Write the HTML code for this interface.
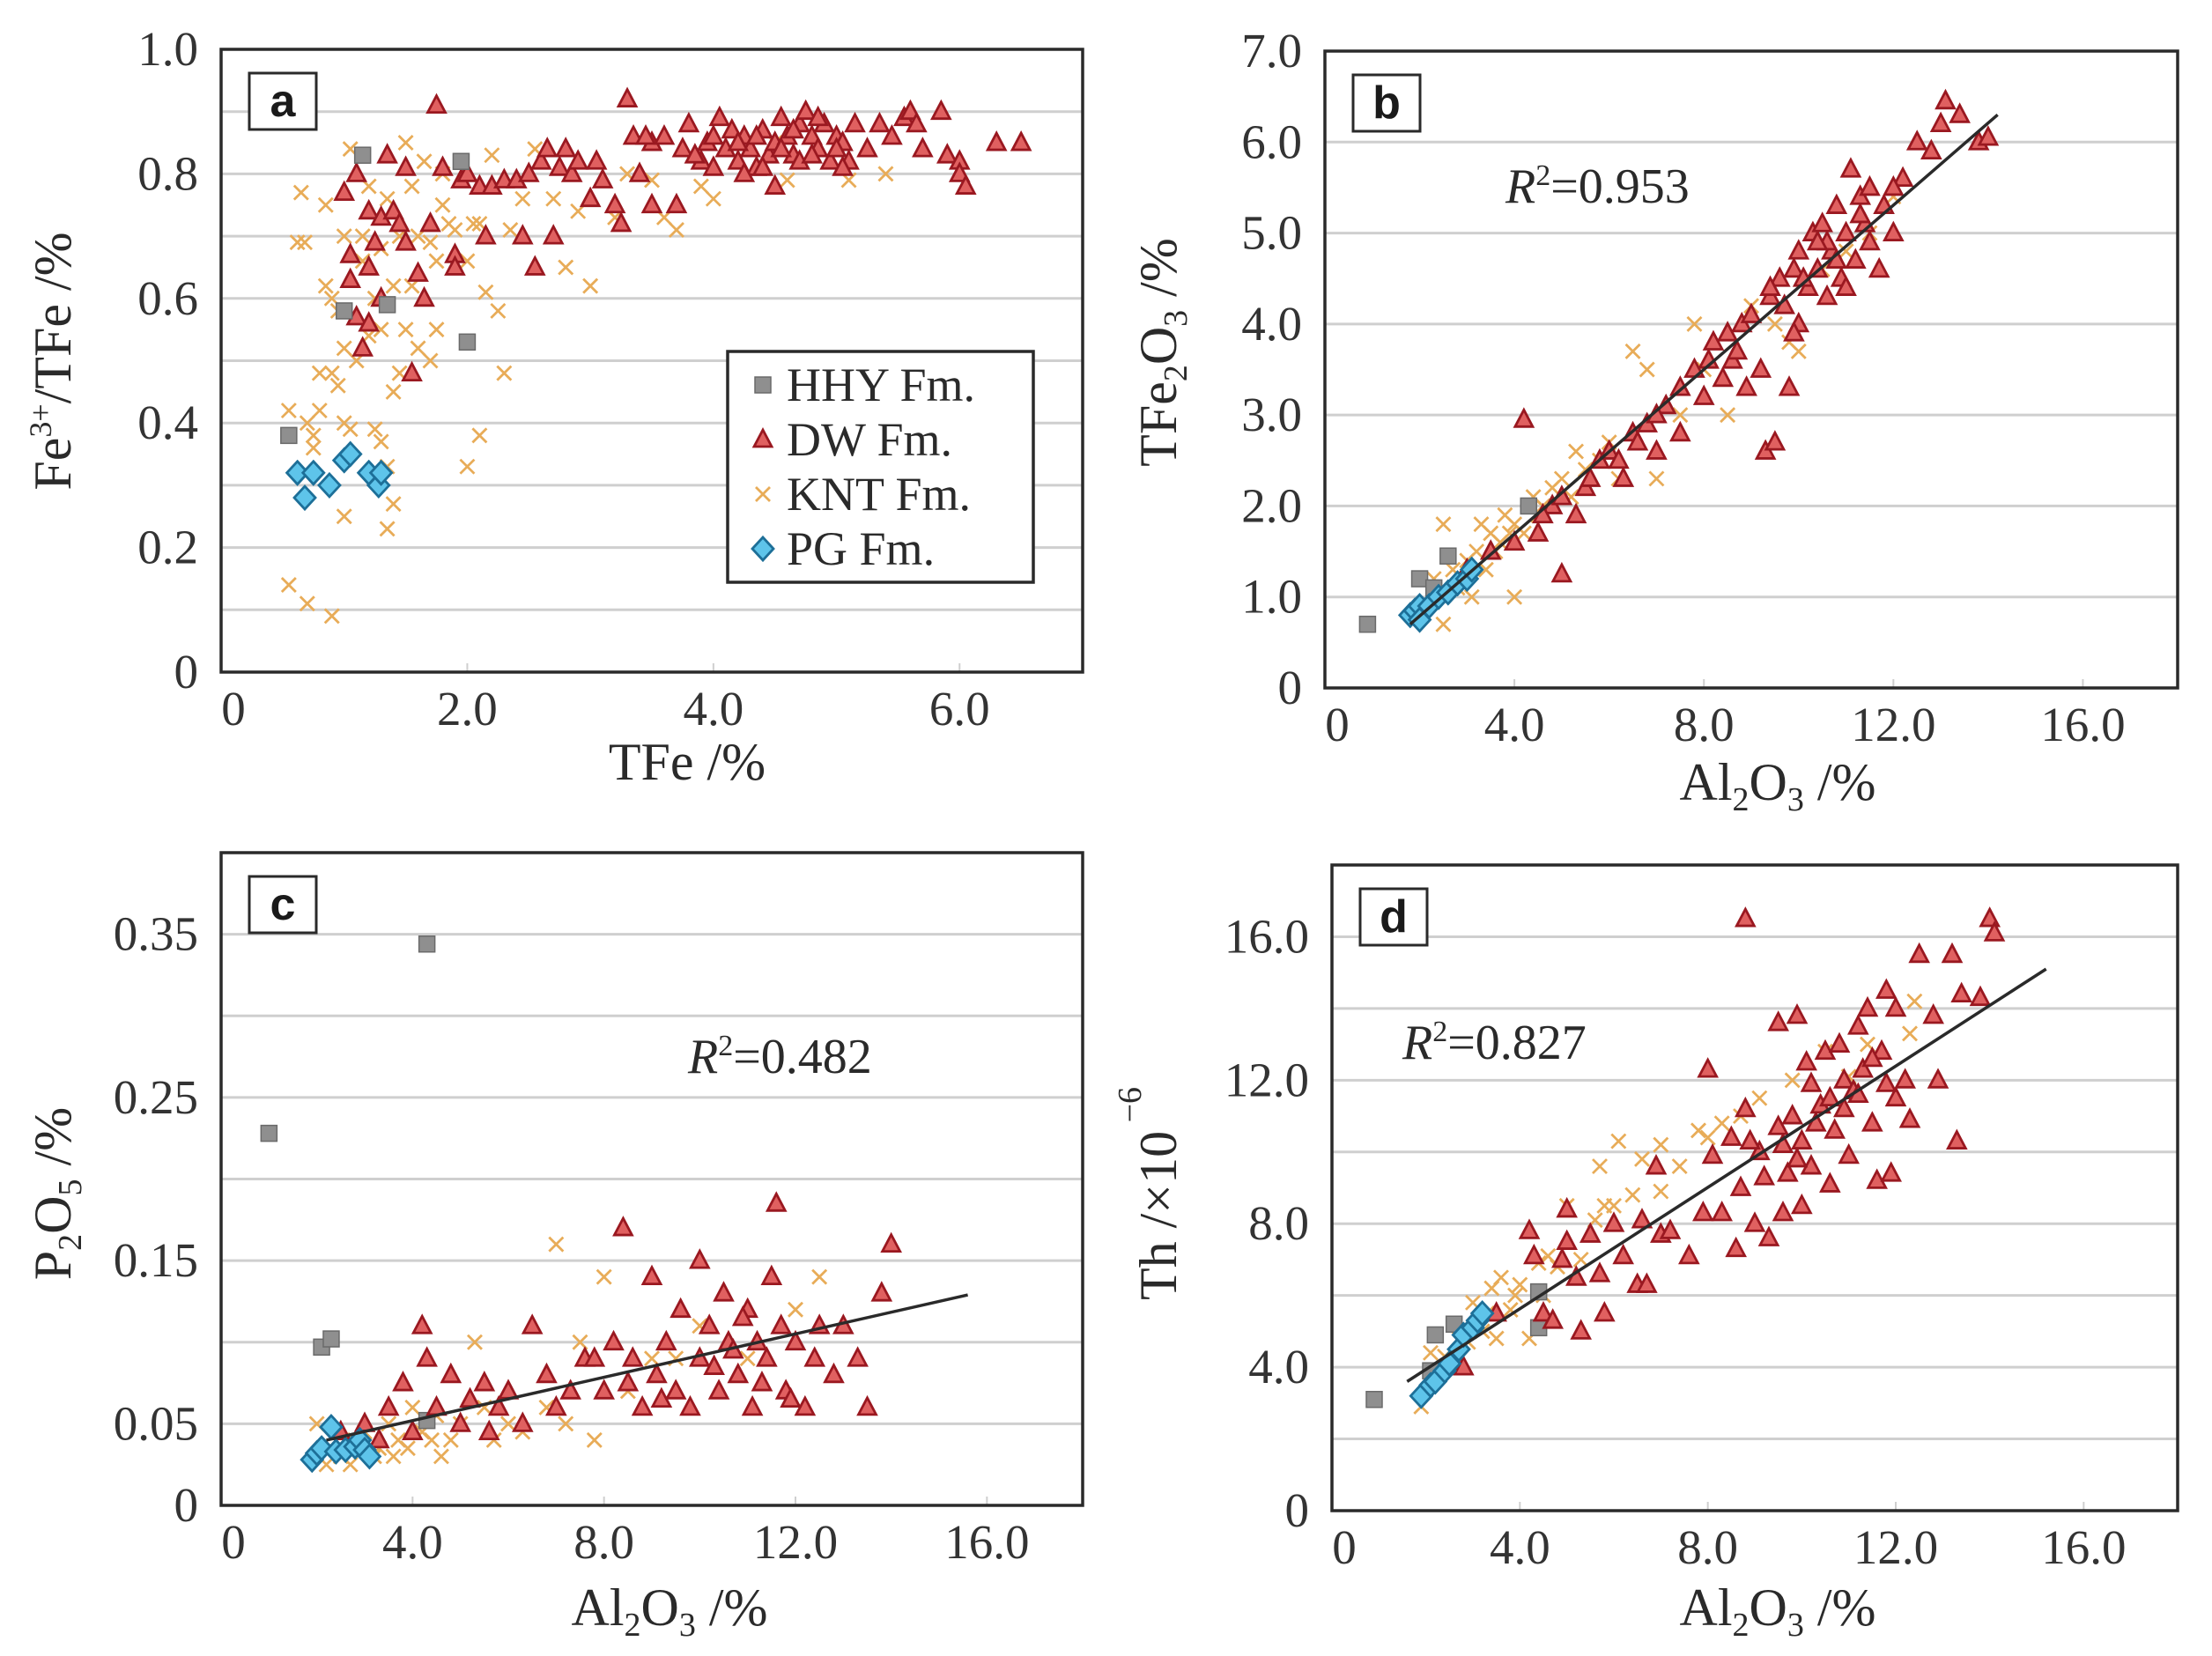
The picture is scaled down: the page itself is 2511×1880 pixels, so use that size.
<!DOCTYPE html>
<html><head><meta charset="utf-8">
<style>
html,body{margin:0;padding:0;background:#fff;}
svg{display:block;font-family:"Liberation Serif",serif;}
</style></head>
<body>
<svg id="fig" width="2511" height="1880" viewBox="0 0 2511 1880" xmlns="http://www.w3.org/2000/svg">
<rect x="0" y="0" width="2511" height="1880" fill="#fff"/>
<g id="layer"></g>
</svg>
<script>
// ---------- Panel a data: TFe (%) vs Fe3+/TFe ----------
const aHHY = [[0.55,0.38],[1.15,0.83],[1.95,0.82],[1.0,0.58],[1.35,0.59],[2.0,0.53]];
const aPG = [[0.62,0.32],[0.68,0.28],[0.75,0.32],[0.88,0.30],[1.0,0.34],[1.05,0.35],[1.2,0.32],[1.28,0.30],[1.3,0.32]];
const aDW = [[1.75,0.91],[3.3,0.92],[1.0,0.77],[1.1,0.8],[1.05,0.67],[1.05,0.63],[1.1,0.57],[1.15,0.52],[1.2,0.56],[1.2,0.74],[1.2,0.65],[1.25,0.69],[1.3,0.60],[1.3,0.73],[1.35,0.83],[1.4,0.74],[1.45,0.72],[1.5,0.69],[1.5,0.81],[1.55,0.48],[1.6,0.64],[1.65,0.60],[1.7,0.72],[1.8,0.81],[1.9,0.67],[1.9,0.65],[1.95,0.79],[2.0,0.80],[2.1,0.78],[2.15,0.70],[2.2,0.78],[2.3,0.79],[2.4,0.79],[2.45,0.70],[2.5,0.80],[2.55,0.65],[2.6,0.82],[2.65,0.84],[2.7,0.70],[2.75,0.81],[2.8,0.84],[2.85,0.80],[2.9,0.82],[3.0,0.76],[3.05,0.82],[3.1,0.79],[3.2,0.75],[3.25,0.72],[3.35,0.86],[3.4,0.80],[3.5,0.85],[3.5,0.75],[3.6,0.86],[3.7,0.75],[3.75,0.84],[3.8,0.88],[3.9,0.82],[3.95,0.85],[4.0,0.81],[4.05,0.89],[4.1,0.84],[4.15,0.87],[4.2,0.82],[4.25,0.86],[4.3,0.84],[4.35,0.81],[4.4,0.87],[4.45,0.83],[4.5,0.78],[4.5,0.85],[4.55,0.89],[4.6,0.86],[4.65,0.83],[4.7,0.88],[4.75,0.90],[4.8,0.86],[4.85,0.84],[4.9,0.88],[4.95,0.82],[5.0,0.86],[5.05,0.85],[5.1,0.82],[5.15,0.88],[5.25,0.84],[5.35,0.88],[5.45,0.86],[5.55,0.89],[5.6,0.90],[5.65,0.88],[5.7,0.84],[5.85,0.90],[5.9,0.83],[6.0,0.82],[6.0,0.80],[6.05,0.78],[6.3,0.85],[6.5,0.85],[4.25,0.80],[4.4,0.81],[4.7,0.82],[4.0,0.86],[3.85,0.83],[4.55,0.84],[4.85,0.89],[5.05,0.81],[4.2,0.85],[4.35,0.86],[4.65,0.87],[4.8,0.83],[5.0,0.84],[3.45,0.86]];
const aKNT = [[0.55,0.42],[0.55,0.14],[0.7,0.11],[0.9,0.09],[0.65,0.77],[0.62,0.69],[0.68,0.69],[0.7,0.40],[0.75,0.38],[0.8,0.42],[0.8,0.48],[0.85,0.62],[0.9,0.60],[0.85,0.75],[0.9,0.48],[0.95,0.46],[1.0,0.25],[1.0,0.40],[1.05,0.39],[1.0,0.52],[1.0,0.70],[1.05,0.84],[1.1,0.50],[1.15,0.66],[1.2,0.78],[1.2,0.54],[1.25,0.39],[1.3,0.37],[1.3,0.55],[1.35,0.23],[1.35,0.33],[1.4,0.27],[1.4,0.45],[1.4,0.62],[1.45,0.48],[1.5,0.85],[1.5,0.55],[1.55,0.78],[1.6,0.52],[1.65,0.82],[1.7,0.50],[1.7,0.69],[1.75,0.55],[1.8,0.75],[1.85,0.72],[1.9,0.71],[2.0,0.66],[2.0,0.33],[2.05,0.72],[2.1,0.38],[2.15,0.61],[2.2,0.83],[2.25,0.58],[2.3,0.48],[2.35,0.71],[2.45,0.76],[2.55,0.84],[2.7,0.76],[2.8,0.65],[3.0,0.62],[2.9,0.74],[3.2,0.73],[3.3,0.80],[3.5,0.79],[3.6,0.73],[3.7,0.71],[3.9,0.78],[4.0,0.76],[4.5,0.85],[4.6,0.79],[5.1,0.79],[5.4,0.80],[1.15,0.70],[1.3,0.68],[1.45,0.70],[1.25,0.60],[1.6,0.70],[0.95,0.58],[1.8,0.80],[2.1,0.72],[1.35,0.76],[1.55,0.62],[1.75,0.66],[0.75,0.36]];
const aXTicks = [0,2,4,6];
const aXTickLabels = ["0","2.0","4.0","6.0"];
const aYTicks = [0,0.2,0.4,0.6,0.8,1.0];
const aYTickLabels = ["0","0.2","0.4","0.6","0.8","1.0"];

// ---------- Panel b data: Al2O3 vs TFe2O3 ----------
const bHHY = [[0.9,0.7],[2.0,1.2],[2.3,1.1],[2.6,1.45],[4.3,2.0]];
const bPG = [[1.8,0.8],[1.9,0.85],[2.0,0.9],[2.2,0.9],[2.4,1.0],[2.6,1.05],[2.8,1.15],[3.0,1.2],[3.1,1.3],[2.0,0.75]];
const bDW = [[3.0,1.3],[3.5,1.5],[4.0,1.6],[4.2,2.95],[4.5,1.7],[4.8,2.0],[5.0,1.25],[5.0,2.1],[5.5,2.2],[5.8,2.5],[6.0,2.6],[6.3,2.3],[6.5,2.8],[6.8,2.9],[7.0,2.6],[7.2,3.1],[7.5,3.3],[7.5,2.8],[7.8,3.5],[8.0,3.2],[8.2,3.8],[8.4,3.4],[8.5,3.9],[8.6,3.6],[8.8,4.0],[8.9,3.3],[9.0,4.1],[9.2,3.5],[9.3,2.6],[9.4,4.3],[9.5,2.7],[9.6,4.5],[9.8,3.3],[9.9,4.6],[10.0,4.0],[10.0,4.8],[10.2,4.4],[10.3,5.0],[10.4,4.6],[10.5,5.1],[10.6,4.3],[10.7,4.8],[10.8,5.3],[10.9,4.5],[11.0,5.0],[11.1,5.7],[11.2,4.7],[11.3,5.4],[11.4,5.1],[11.5,5.5],[11.7,4.6],[11.8,5.3],[12.0,5.0],[12.2,5.6],[12.5,6.0],[12.8,5.9],[13.0,6.2],[13.1,6.45],[13.4,6.3],[13.8,6.0],[14.0,6.05],[9.7,4.2],[10.1,4.5],[8.1,3.6],[8.7,3.7],[7.0,3.0],[6.2,2.5],[5.3,1.9],[4.6,1.9],[10.6,4.9],[11.0,4.4],[11.5,4.9],[12.0,5.5],[9.9,3.9],[10.4,4.9],[10.8,4.7],[9.4,4.4],[11.3,5.2],[5.6,2.3],[6.6,2.7]];
const bKNT = [[2.0,0.8],[2.3,1.2],[2.5,0.7],[2.5,1.8],[2.8,1.1],[3.0,1.4],[3.2,1.5],[3.4,1.3],[3.5,1.7],[3.7,1.6],[3.8,1.9],[4.0,1.0],[4.0,1.8],[4.2,1.7],[4.4,2.1],[4.6,2.0],[4.8,2.2],[5.0,2.3],[5.2,2.1],[5.5,2.4],[5.8,2.5],[6.0,2.7],[6.2,2.3],[6.5,3.7],[6.8,3.5],[7.0,2.3],[7.5,3.0],[7.8,4.0],[8.0,3.5],[8.5,3.0],[9.0,4.2],[9.5,4.0],[9.8,3.8],[10.0,3.7],[10.5,4.6],[11.0,4.8],[11.5,5.0],[12.0,5.4],[3.3,1.8],[2.7,1.3],[3.1,1.0],[4.5,1.9],[5.3,2.6],[3.6,1.5],[2.9,1.2],[3.9,1.7]];
const bFit = [[1.8,0.7],[14.2,6.3]];
const bXTicks = [0,4,8,12,16];
const bXTickLabels = ["0","4.0","8.0","12.0","16.0"];
const bYTicks = [0,1,2,3,4,5,6,7];
const bYTickLabels = ["0","1.0","2.0","3.0","4.0","5.0","6.0","7.0"];

// ---------- Panel c data: Al2O3 vs P2O5 ----------
const cHHY = [[1.0,0.228],[2.1,0.097],[2.3,0.102],[4.3,0.344],[4.3,0.052]];
const cPG = [[1.9,0.028],[2.0,0.032],[2.1,0.035],[2.3,0.048],[2.4,0.033],[2.6,0.034],[2.8,0.036],[2.9,0.040],[3.0,0.034],[3.1,0.030]];
const cDW = [[2.5,0.045],[3.0,0.05],[3.5,0.06],[3.8,0.075],[4.2,0.11],[4.3,0.09],[4.5,0.06],[4.8,0.08],[5.0,0.05],[5.2,0.065],[5.5,0.075],[5.8,0.06],[6.0,0.07],[6.5,0.11],[6.8,0.08],[7.0,0.06],[7.3,0.07],[7.6,0.09],[8.0,0.07],[8.2,0.1],[8.4,0.17],[8.6,0.09],[8.8,0.06],[9.0,0.14],[9.1,0.08],[9.3,0.1],[9.5,0.07],[9.6,0.12],[9.8,0.06],[10.0,0.15],[10.0,0.09],[10.2,0.11],[10.4,0.07],[10.5,0.13],[10.6,0.1],[10.8,0.08],[11.0,0.12],[11.1,0.06],[11.2,0.1],[11.4,0.09],[11.5,0.14],[11.6,0.185],[11.7,0.11],[11.8,0.07],[12.0,0.1],[12.2,0.06],[12.5,0.11],[12.8,0.08],[13.0,0.11],[13.3,0.09],[13.5,0.06],[13.8,0.13],[14.0,0.16],[9.2,0.065],[10.3,0.085],[8.5,0.075],[11.9,0.065],[12.4,0.09],[7.8,0.09],[10.7,0.095],[3.3,0.04],[4.0,0.045],[5.6,0.045],[6.3,0.05],[10.9,0.115],[11.3,0.075]];
const cKNT = [[2.0,0.05],[2.2,0.025],[2.5,0.03],[2.8,0.04],[3.0,0.045],[3.3,0.035],[3.5,0.05],[3.7,0.04],[4.0,0.06],[4.2,0.045],[4.5,0.055],[4.8,0.04],[5.0,0.05],[5.3,0.1],[5.5,0.06],[6.0,0.05],[6.3,0.045],[6.8,0.06],[7.0,0.16],[7.2,0.05],[7.5,0.1],[7.8,0.04],[8.0,0.14],[8.5,0.07],[9.0,0.09],[9.5,0.09],[10.0,0.11],[11.0,0.09],[12.0,0.12],[12.5,0.14],[3.2,0.03],[3.9,0.035],[4.6,0.03],[5.7,0.04],[2.7,0.025],[3.6,0.03],[4.4,0.04]];
const cFit = [[2.2,0.04],[15.6,0.129]];
const cXTicks = [0,4,8,12,16];
const cXTickLabels = ["0","4.0","8.0","12.0","16.0"];
const cYTicks = [0,0.05,0.15,0.25,0.35];
const cYTickLabels = ["0","0.05","0.15","0.25","0.35"];

// ---------- Panel d data: Al2O3 vs Th ----------
const dHHY = [[0.9,3.1],[2.2,4.9],[2.6,5.2],[4.4,6.1],[4.4,5.1],[2.1,3.9]];
const dPG = [[1.9,3.2],[2.1,3.5],[2.2,3.6],[2.4,3.9],[2.5,4.1],[2.7,4.5],[2.8,4.9],[3.0,5.1],[3.1,5.3],[3.2,5.5]];
const dDW = [[2.8,4.0],[3.5,5.5],[4.2,7.8],[4.3,7.1],[4.5,5.5],[4.7,5.3],[5.0,8.4],[5.0,7.5],[5.2,6.5],[5.3,5.0],[5.5,7.7],[5.7,6.6],[5.8,5.5],[6.0,8.0],[6.2,7.1],[6.5,6.3],[6.6,8.1],[6.7,6.3],[6.9,9.6],[7.0,7.7],[7.2,7.8],[7.6,7.1],[7.9,8.3],[8.0,12.3],[8.1,9.9],[8.3,8.3],[8.5,10.4],[8.6,7.3],[8.7,9.0],[8.8,16.5],[8.8,11.2],[9.0,8.0],[9.1,10.0],[9.2,9.3],[9.3,7.6],[9.5,10.7],[9.5,13.6],[9.6,8.3],[9.7,9.4],[9.8,11.0],[9.9,13.8],[10.0,10.3],[10.0,8.5],[10.1,12.5],[10.2,9.6],[10.4,11.3],[10.5,12.8],[10.6,9.1],[10.7,10.6],[10.8,13.0],[10.9,12.0],[11.0,9.9],[11.1,11.7],[11.2,13.5],[11.3,12.3],[11.4,14.0],[11.5,10.8],[11.6,9.2],[11.7,12.8],[11.8,14.5],[11.9,9.4],[12.0,11.5],[12.0,14.0],[12.2,12.0],[12.3,10.9],[12.5,15.5],[12.8,13.8],[12.9,12.0],[13.2,15.5],[13.3,10.3],[13.4,14.4],[13.8,14.3],[14.0,16.5],[14.1,16.1],[10.3,10.8],[11.2,11.6],[9.9,9.8],[10.6,11.5],[11.8,11.9],[8.9,10.3],[10.2,11.9],[10.9,11.2],[11.5,12.6],[9.6,10.2],[4.9,7.0]];
const dKNT = [[1.9,2.9],[2.1,4.4],[2.4,4.3],[2.7,4.8],[3.0,5.8],[3.2,5.0],[3.4,6.2],[3.6,6.5],[3.8,5.6],[4.0,6.3],[4.2,4.8],[4.4,6.9],[4.6,7.1],[4.8,6.8],[5.0,8.5],[5.3,7.0],[5.6,8.1],[5.8,8.5],[6.1,10.3],[6.4,8.8],[6.6,9.8],[7.0,10.2],[7.0,8.9],[7.4,9.6],[7.8,10.6],[8.0,10.4],[8.3,10.8],[8.7,11.0],[9.1,11.5],[9.8,12.0],[10.5,12.8],[11.0,12.1],[11.4,13.0],[12.3,13.3],[12.4,14.2],[5.7,9.6],[4.5,6.0],[3.3,5.5],[2.9,4.7],[6.0,8.5],[3.5,4.8],[3.9,6.0],[2.6,4.2]];
const dFit = [[1.6,3.6],[15.2,15.1]];
const dXTicks = [0,4,8,12,16];
const dXTickLabels = ["0","4.0","8.0","12.0","16.0"];
const dYTicks = [0,4,8,12,16];
const dYTickLabels = ["0","4.0","8.0","12.0","16.0"];

const NS = "http://www.w3.org/2000/svg";
const layer = document.getElementById('layer');

function mk(tag, attrs, parent){
  const e = document.createElementNS(NS, tag);
  for (const k in attrs) e.setAttribute(k, attrs[k]);
  (parent||layer).appendChild(e);
  return e;
}

function makeScale(d0,d1,r0,r1){ return v => r0 + (v-d0)/(d1-d0)*(r1-r0); }

function marker(g, type, cx, cy){
  let e;
  if (type==='HHY'){
    e = mk('rect',{x:cx-9,y:cy-9,width:18,height:18,fill:'#8f8f8f',stroke:'#6a6a6a','stroke-width':1.5},g);
  } else if (type==='DW'){
    e = mk('polygon',{points:`${cx},${cy-11} ${cx+10},${cy+8} ${cx-10},${cy+8}`,fill:'#e06060',stroke:'#9a1820','stroke-width':2.8},g);
  } else if (type==='KNT'){
    e = mk('path',{d:`M${cx-8},${cy-8}L${cx+8},${cy+8}M${cx+8},${cy-8}L${cx-8},${cy+8}`,stroke:'#e8ac58','stroke-width':2.8,fill:'none'},g);
  } else {
    e = mk('polygon',{points:`${cx},${cy-13} ${cx+12},${cy} ${cx},${cy+13} ${cx-12},${cy}`,fill:'#5ec4ea',stroke:'#1d6f98','stroke-width':2.8},g);
  }
  return e;
}

function panel(p){
  const g = mk('g',{});
  
  
  const sx = makeScale(p.x0,p.x1,p.L,p.R);
  const sy = makeScale(p.y0,p.y1,p.B,p.T);
  for (let v=p.y0+p.grid; v<p.y1-1e-9; v+=p.grid){
    const gl = mk('line',{x1:p.L,x2:p.R,y1:sy(v),y2:sy(v),stroke:'#cfcfcf','stroke-width':3},g);
    
    
  }
  p.xt.forEach((v,i)=>{
    const t = mk('line',{x1:sx(v),x2:sx(v),y1:p.B,y2:p.B-10,stroke:'#cfcfcf','stroke-width':2},g);
    
    
    const lab = mk('text',{x:sx(v)+(v===0?14:0),y:p.B+60,'font-size':55,'text-anchor':'middle',fill:'#333'},g);
    lab.textContent = p.xl[i];
    
    
  });
  p.yt.forEach((v,i)=>{
    const lab = mk('text',{x:p.L-26,y:sy(v)+18,'font-size':55,'text-anchor':'end',fill:'#333'},g);
    lab.textContent = p.yl[i];
    
    
  });
  const series = p.id==='a' ? [['KNT',p.KNT],['DW',p.DW],['HHY',p.HHY],['PG',p.PG]] : [['KNT',p.KNT],['HHY',p.HHY],['DW',p.DW],['PG',p.PG]];
  series.forEach(([type,data])=>{
    const sg = mk('g',{},g);
    
    
    data.forEach(d=>{
      const m = marker(sg,type,sx(d[0]),sy(d[1]));
      
      
    });
  });
  if (p.fit){
    const fl = mk('line',{x1:sx(p.fit[0][0]),y1:sy(p.fit[0][1]),x2:sx(p.fit[1][0]),y2:sy(p.fit[1][1]),stroke:'#2a2a2a','stroke-width':3.5},g);
    
    
  }
  const fr = mk('rect',{x:p.L,y:p.T,width:p.R-p.L,height:p.B-p.T,fill:'none',stroke:'#2a2a2a','stroke-width':3.5},g);
  
  
  const lb = mk('rect',{x:p.L+32,y:p.T+27,width:76,height:64,fill:'#fff',stroke:'#2a2a2a','stroke-width':3},g);
  
  
  const lt = mk('text',{x:p.L+70,y:p.T+76,'font-size':52,'font-weight':'bold','text-anchor':'middle','font-family':'Liberation Sans, sans-serif',fill:'#1a1a1a'},g);
  lt.textContent = p.id;
  
  
  return g;
}

panel({id:'a',L:251,R:1229,T:56,B:763,x0:0,x1:7,y0:0,y1:1,grid:0.1,xt:aXTicks,xl:aXTickLabels,yt:aYTicks,yl:aYTickLabels,HHY:aHHY,PG:aPG,DW:aDW,KNT:aKNT});
panel({id:'b',L:1504,R:2472,T:58,B:781,x0:0,x1:18,y0:0,y1:7,grid:1,xt:bXTicks,xl:bXTickLabels,yt:bYTicks,yl:bYTickLabels,HHY:bHHY,PG:bPG,DW:bDW,KNT:bKNT,fit:bFit});
panel({id:'c',L:251,R:1229,T:968,B:1709,x0:0,x1:18,y0:0,y1:0.4,grid:0.05,xt:cXTicks,xl:cXTickLabels,yt:cYTicks,yl:cYTickLabels,HHY:cHHY,PG:cPG,DW:cDW,KNT:cKNT,fit:cFit});
panel({id:'d',L:1512,R:2472,T:982,B:1715,x0:0,x1:18,y0:0,y1:18,grid:2,xt:dXTicks,xl:dXTickLabels,yt:dYTicks,yl:dYTickLabels,HHY:dHHY,PG:dPG,DW:dDW,KNT:dKNT,fit:dFit});

const lg = mk('g',{});


const lgBox = mk('rect',{x:826,y:399,width:347,height:262,fill:'#fff',stroke:'#2a2a2a','stroke-width':3.5},lg);


const legendNames = ['HHY Fm.','DW Fm.','KNT Fm.','PG Fm.'];
const legendTypes = ['HHY','DW','KNT','PG'];
legendTypes.forEach((t,i)=>{
  const y = 437 + i*62;
  const m = marker(lg,t,866,y);
  
  
  const tx = mk('text',{x:893,y:y+18,'font-size':54,fill:'#2a2a2a'},lg);
  tx.textContent = legendNames[i];
  
  
});

document.getElementById('fig').insertAdjacentHTML('beforeend', `
<text x="1709" y="230" font-size="56" fill="#2a2a2a"><tspan font-style="italic">R</tspan><tspan dy="-20" font-size="34">2</tspan><tspan dy="20">=0.953</tspan></text>
<text x="781" y="1218" font-size="56" fill="#2a2a2a"><tspan font-style="italic">R</tspan><tspan dy="-20" font-size="34">2</tspan><tspan dy="20">=0.482</tspan></text>
<text x="1592" y="1202" font-size="56" fill="#2a2a2a"><tspan font-style="italic">R</tspan><tspan dy="-20" font-size="34">2</tspan><tspan dy="20">=0.827</tspan></text>
<text x="780" y="885" font-size="60" text-anchor="middle" fill="#2a2a2a">TFe  /%</text>
<text x="2018" y="908" font-size="60" text-anchor="middle" fill="#2a2a2a">Al<tspan dy="12" font-size="38">2</tspan><tspan dy="-12">O</tspan><tspan dy="12" font-size="38">3</tspan><tspan dy="-12"> /%</tspan></text>
<text x="760" y="1845" font-size="60" text-anchor="middle" fill="#2a2a2a">Al<tspan dy="12" font-size="38">2</tspan><tspan dy="-12">O</tspan><tspan dy="12" font-size="38">3</tspan><tspan dy="-12"> /%</tspan></text>
<text x="2018" y="1845" font-size="60" text-anchor="middle" fill="#2a2a2a">Al<tspan dy="12" font-size="38">2</tspan><tspan dy="-12">O</tspan><tspan dy="12" font-size="38">3</tspan><tspan dy="-12"> /%</tspan></text>
<text transform="translate(80,410) rotate(-90)" font-size="60" text-anchor="middle" fill="#2a2a2a">Fe<tspan dy="-22" font-size="36">3+</tspan><tspan dy="22">/TFe  /%</tspan></text>
<text transform="translate(1335,400) rotate(-90)" font-size="60" text-anchor="middle" fill="#2a2a2a">TFe<tspan dy="12" font-size="38">2</tspan><tspan dy="-12">O</tspan><tspan dy="12" font-size="38">3</tspan><tspan dy="-12"> /%</tspan></text>
<text transform="translate(80,1355) rotate(-90)" font-size="60" text-anchor="middle" fill="#2a2a2a">P<tspan dy="12" font-size="38">2</tspan><tspan dy="-12">O</tspan><tspan dy="12" font-size="38">5</tspan><tspan dy="-12">  /%</tspan></text>
<text transform="translate(1335,1355) rotate(-90)" font-size="60" text-anchor="middle" fill="#2a2a2a">Th /×10<tspan dy="-40" font-size="38"> −6</tspan></text>
`);
</script>
</body></html>
